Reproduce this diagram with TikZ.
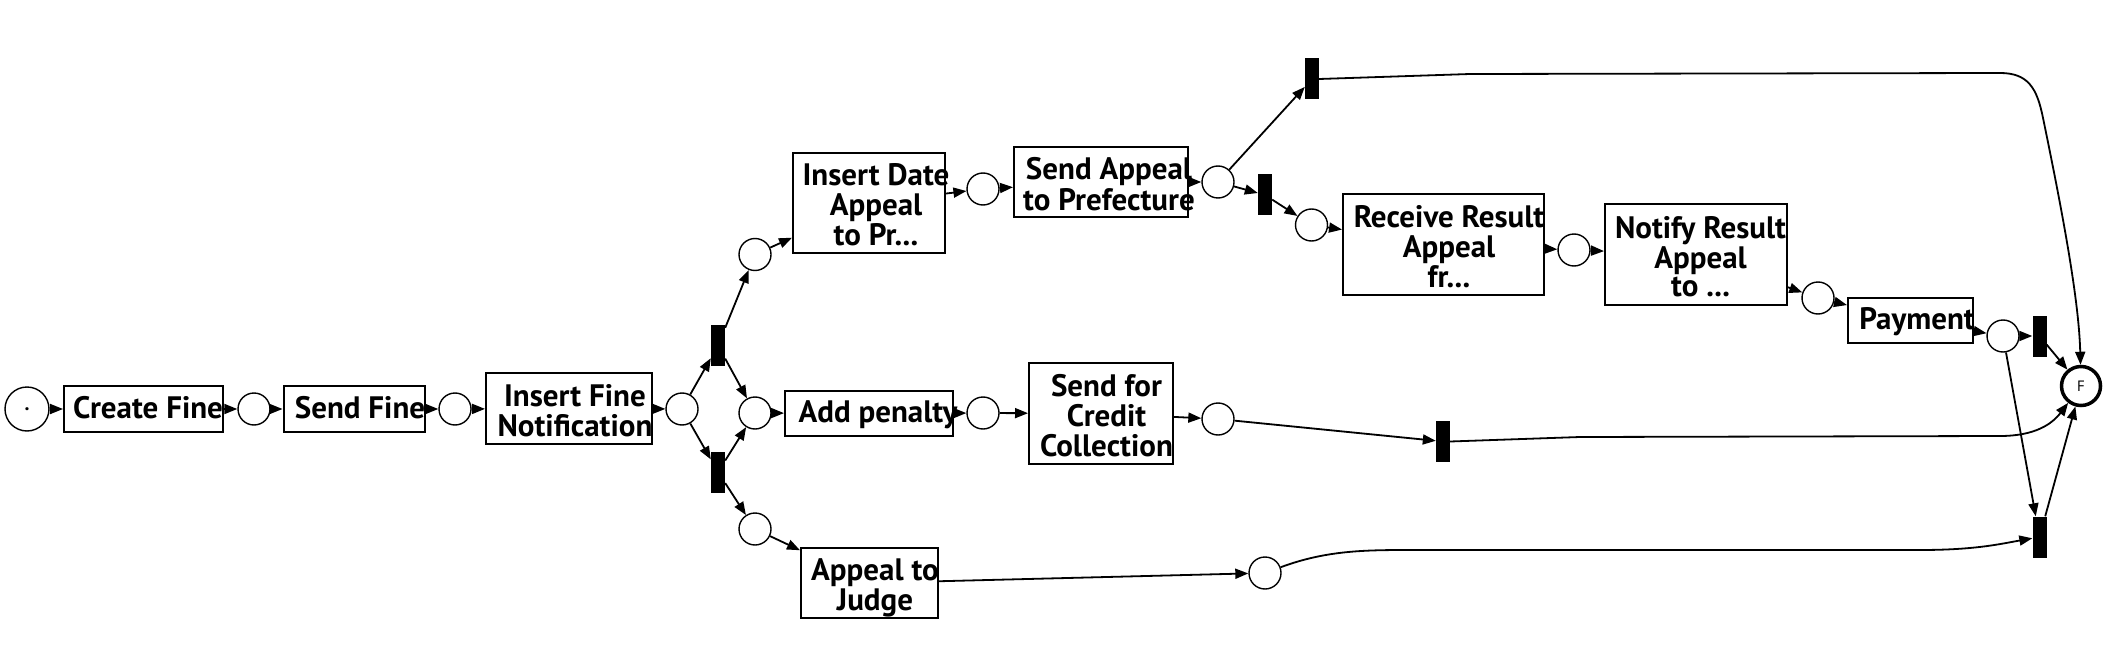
\documentclass[tikz,border=0pt]{standalone}
\usepackage{fontspec}
\setmainfont{PT Sans}
\newfontfamily\taskfont{PT Sans}
\usetikzlibrary{arrows.meta}
\newcommand\tx[3][2]{\makebox[0pt]{\hspace{#2pt}\raisebox{-#1pt}[\height][\depth]{\begin{tabular}{@{}c@{}}#3\end{tabular}}}}
\tikzset{
  place/.style={circle, draw, line width=1.4pt, minimum size=32pt, inner sep=0pt},
  trans/.style={rectangle, fill=black, minimum width=14pt, minimum height=41pt, inner sep=0pt},
  task/.style={rectangle, draw, line width=2pt, inner sep=0pt, font=\taskfont\bfseries\fontsize{31}{27}\selectfont},
  arc/.style={line width=1.8pt, -{Triangle[length=13pt,width=10pt]}},
}
\begin{document}
\begin{tikzpicture}[x=1pt,y=-1pt]
\useasboundingbox (0,0) rectangle (2106,647);
% places
\node[place, minimum size=44pt, font=\taskfont\bfseries\fontsize{20}{20}\selectfont] (p0) at (27,409) {.};
\node[place] (p1) at (254,409) {};
\node[place] (p2) at (455,409) {};
\node[place] (p3) at (682,409) {};
\node[place] (pa) at (755,254.5) {};
\node[place] (pb) at (755,413) {};
\node[place] (pc) at (755,529) {};
\node[place] (pd) at (983,189) {};
\node[place] (pe) at (1218,182) {};
\node[place] (pf) at (1311.5,225) {};
\node[place] (pg) at (1574,250) {};
\node[place] (ph) at (1818,298) {};
\node[place] (pi) at (2003,336) {};
\node[place] (pj) at (983,413) {};
\node[place] (pk) at (1218,419) {};
\node[place] (pl) at (1265,573) {};
\node[place, minimum size=39pt, line width=3.5pt, font=\taskfont\fontsize{15}{15}\selectfont] (fin) at (2081,386) {F};
% transitions
\node[trans] (t1) at (718,345.5) {};
\node[trans] (t2) at (718,472) {};
\node[trans] (t3) at (1312,79) {};
\node[trans] (t4) at (1265,195) {};
\node[trans] (t5) at (1443,441.5) {};
\node[trans] (t6) at (2039.5,336) {};
\node[trans] (t7) at (2039.5,537) {};
% tasks
\node[task, minimum width=159pt, minimum height=46pt] (cf) at (143.5,409) {\tx{9}{Create Fine}};
\node[task, minimum width=141pt, minimum height=46pt] (sf) at (354,409) {\tx{12}{Send Fine}};
\node[task, minimum width=166pt, minimum height=71pt] (ifn) at (569,408.5) {\tx[6]{12}{Insert Fine\\Notification}};
\node[task, minimum width=152pt, minimum height=100pt] (ida) at (869,203) {\tx[6]{14}{Insert Date\\Appeal\\to Pr...}};
\node[task, minimum width=174pt, minimum height=70pt] (sap) at (1101,182) {\tx[6]{16}{Send Appeal\\to Prefecture}};
\node[task, minimum width=201pt, minimum height=101pt] (rra) at (1443.5,244.5) {\tx[6]{11}{Receive Result\\Appeal\\fr...}};
\node[task, minimum width=182pt, minimum height=101pt] (nra) at (1696,254.5) {\tx[6]{9}{Notify Result\\Appeal\\to ...}};
\node[task, minimum width=125pt, minimum height=45pt] (pay) at (1910.5,320.5) {\tx{13}{Payment}};
\node[task, minimum width=168pt, minimum height=45pt] (pen) at (869,413.5) {\tx{18}{Add penalty}};
\node[task, minimum width=144pt, minimum height=101pt] (scc) at (1101,413.5) {\tx[6]{11}{Send for\\Credit\\Collection}};
\node[task, minimum width=137pt, minimum height=70pt] (atj) at (869.5,583) {\tx[6]{11}{Appeal to\\Judge}};
% arcs
\draw[arc] (p0) -- (cf);
\draw[arc] (cf) -- (p1);
\draw[arc] (p1) -- (sf);
\draw[arc] (sf) -- (p2);
\draw[arc] (p2) -- (ifn);
\draw[arc] (ifn) -- (p3);
\draw[arc] (p3) -- (t1);
\draw[arc] (p3) -- (t2);
\draw[arc] (t1) -- (pa);
\draw[arc] (t1) -- (pb);
\draw[arc] (t2) -- (pb);
\draw[arc] (t2) -- (pc);
\draw[arc] (pa) -- (ida);
\draw[arc] (ida) -- (pd);
\draw[arc] (pd) -- (sap);
\draw[arc] (sap) -- (pe);
\draw[arc] (pe) -- (t3);
\draw[arc] (pe) -- (t4);
\draw[arc] (t4) -- (pf);
\draw[arc] (pf) -- (rra);
\draw[arc] (rra) -- (pg);
\draw[arc] (pg) -- (nra);
\draw[arc] (nra) -- (ph);
\draw[arc] (ph) -- (pay);
\draw[arc] (pay) -- (pi);
\draw[arc] (pi) -- (t6);
\draw[arc] (t6) -- (fin);
\draw[arc] (pi) -- (t7);
\draw[arc] (t7) -- (fin);
\draw[arc] (pb) -- (pen);
\draw[arc] (pen) -- (pj);
\draw[arc] (pj) -- (scc);
\draw[arc] (scc) -- (pk);
\draw[arc] (pk) -- (t5);
\draw[arc] (pc) -- (atj);
\draw[arc] (atj) -- (pl);
% long arcs
\draw[arc] (t3.east) -- (1470,74) -- (2000,73) .. controls (2028,73) and (2037,88) .. (2043,118) .. controls (2062,210) and (2079,300) .. (fin);
\draw[arc] (t5.east) -- (1580,437) -- (2000,436) .. controls (2035,436) and (2052,424) .. (fin);
\draw[arc] (pl) .. controls (1330,549) and (1370,550) .. (1425,550) -- (1920,550) .. controls (1975,550) and (2000,544) .. (t7);
\end{tikzpicture}
\end{document}
